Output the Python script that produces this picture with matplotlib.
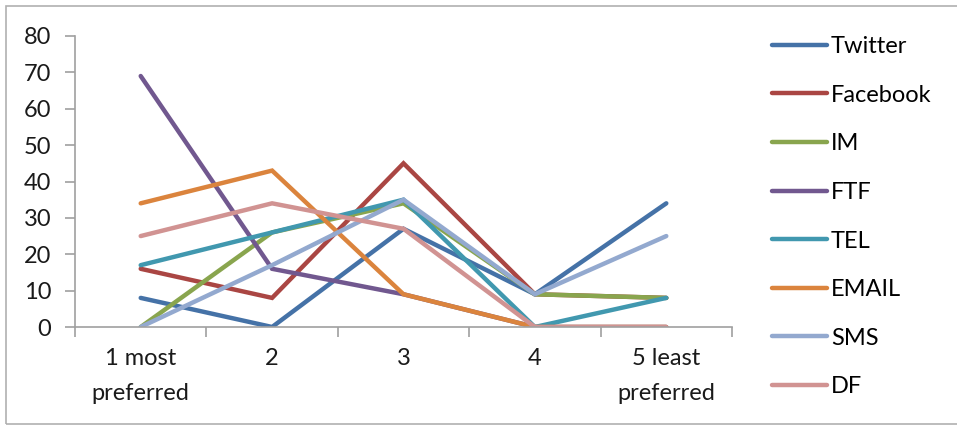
import matplotlib
matplotlib.use("Agg")
import matplotlib.pyplot as plt
from matplotlib.patches import Rectangle

plt.rcParams["font.family"] = ["Lato", "DejaVu Sans"]

# preference rank on the x axis, one series per channel
categories = ["1 most\npreferred", "2", "3", "4", "5 least\npreferred"]
series_names = ["Twitter", "Facebook", "IM", "FTF", "TEL", "EMAIL", "SMS", "DF"]
twitter = [8, 0, 27, 9, 34]
facebook = [16, 8, 45, 9, 8]
im = [0, 26, 34, 9, 8]
ftf = [69, 16, 9, 0, 0]
tel = [17, 26, 35, 0, 8]
email = [34, 43, 9, 0, 0]
sms = [0, 17, 35, 9, 25]
df = [25, 34, 27, 0, 0]
yticks = [0, 10, 20, 30, 40, 50, 60, 70, 80]

colors = ["#4572A7", "#AA4643", "#89A54E", "#71588F",
          "#4198AF", "#DB843D", "#93A9CF", "#D19392"]
values = [twitter, facebook, im, ftf, tel, email, sms, df]

fig = plt.figure(figsize=(9.57, 4.26), dpi=100)
# outer chart frame (right edge falls outside the picture)
fig.patches.append(Rectangle((6 / 957, 2 / 426), 1.0, 418 / 426,
                             transform=fig.transFigure, fill=False,
                             edgecolor="#b0b0b0", lw=1.2))
ax = fig.add_axes([75 / 957, 1 - 327 / 426, (732 - 75) / 957, (327 - 36) / 426])

x = range(len(categories))
for name, vals, c in zip(series_names, values, colors):
    ax.plot(x, vals, color=c, lw=3.2, solid_capstyle="round",
            solid_joinstyle="miter", label=name)

ax.set_xlim(-0.5, len(categories) - 0.5)
ax.set_ylim(0, 80)
ax.set_yticks(yticks)
ax.set_xticks([i - 0.5 for i in range(len(categories) + 1)])
ax.set_xticklabels([])
ax.set_xticks(list(x), minor=True)
ax.set_xticklabels(categories, minor=True, fontsize=17, color="#1a1a1a",
                   linespacing=1.85)
ax.tick_params(axis="x", which="minor", length=0, pad=15)
ax.tick_params(axis="x", which="major", length=7, width=1.2, color="#a0a0a0")
ax.tick_params(axis="y", length=7, width=1.2, color="#a0a0a0",
               labelsize=17, labelcolor="#1a1a1a", pad=10)
for s in ["top", "right"]:
    ax.spines[s].set_visible(False)
for s in ["left", "bottom"]:
    ax.spines[s].set_color("#a0a0a0")
    ax.spines[s].set_linewidth(1.2)

ax.legend(loc="upper left", bbox_to_anchor=(772 / 957, 1 - 36 / 426),
          bbox_transform=fig.transFigure, frameon=False, fontsize=17,
          handlelength=2.35, handletextpad=0.15, labelspacing=1.17,
          borderpad=0, borderaxespad=0)

fig.savefig("out.png", dpi=100)
